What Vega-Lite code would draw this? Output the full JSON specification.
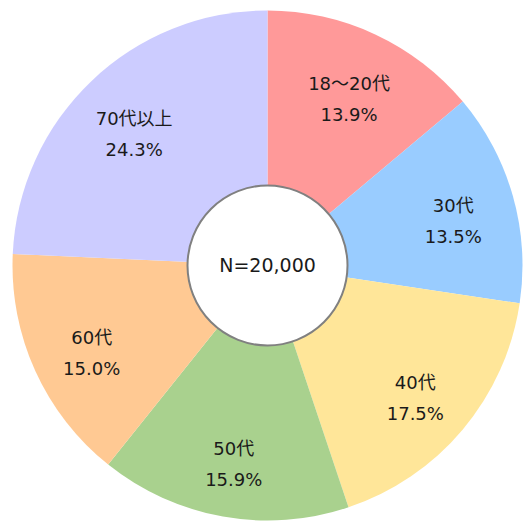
{
  "$schema": "https://vega.github.io/schema/vega-lite/v6.json",
  "width": 525,
  "height": 525,
  "autosize": {"type": "fit", "contains": "padding"},
  "padding": {"left": 10, "top": 6, "right": 0, "bottom": 0},
  "background": "white",
  "view": {"stroke": null},
  "datasets": {
    "slices": [
      {"order": 1, "group": "18～20代", "value": 13.9, "label": "18～20代\n13.9%"},
      {"order": 2, "group": "30代", "value": 13.5, "label": "30代\n13.5%"},
      {"order": 3, "group": "40代", "value": 17.5, "label": "40代\n17.5%"},
      {"order": 4, "group": "50代", "value": 15.9, "label": "50代\n15.9%"},
      {"order": 5, "group": "60代", "value": 15.0, "label": "60代\n15.0%"},
      {"order": 6, "group": "70代以上", "value": 24.3, "label": "70代以上\n24.3%"}
    ],
    "center": [{"value": 6.2832, "label": "N=20,000"}]
  },
  "layer": [
    {
      "data": {"name": "slices"},
      "mark": {"type": "arc", "outerRadius": 255, "stroke": null},
      "encoding": {
        "theta": {"field": "value", "type": "quantitative", "stack": true},
        "order": {"field": "order", "type": "quantitative"},
        "color": {
          "field": "group",
          "type": "nominal",
          "sort": ["18～20代", "30代", "40代", "50代", "60代", "70代以上"],
          "scale": {
            "domain": ["18～20代", "30代", "40代", "50代", "60代", "70代以上"],
            "range": ["#FF9999", "#99CCFF", "#FFE699", "#A9D18E", "#FFC993", "#CCCCFF"]
          },
          "legend": null
        }
      }
    },
    {
      "data": {"name": "slices"},
      "mark": {
        "type": "text",
        "radius": 193,
        "dy": -6,
        "font": "DejaVu Sans, Noto Sans CJK JP",
        "fontSize": 18,
        "color": "#1a1a1a",
        "lineBreak": "\n",
        "lineHeight": 31,
        "baseline": "middle",
        "align": "center"
      },
      "encoding": {
        "theta": {"field": "value", "type": "quantitative", "stack": true},
        "order": {"field": "order", "type": "quantitative"},
        "text": {"field": "label", "type": "nominal"}
      }
    },
    {
      "data": {"name": "center"},
      "mark": {"type": "arc", "outerRadius": 80, "fill": "white", "stroke": "#808080", "strokeWidth": 2},
      "encoding": {
        "theta": {"field": "value", "type": "quantitative", "scale": null}
      }
    },
    {
      "data": {"name": "center"},
      "mark": {"type": "text", "radius": 0, "font": "DejaVu Sans, Noto Sans CJK JP", "fontSize": 19, "color": "#1a1a1a", "baseline": "middle", "align": "center"},
      "encoding": {
        "text": {"field": "label", "type": "nominal"}
      }
    }
  ]
}
